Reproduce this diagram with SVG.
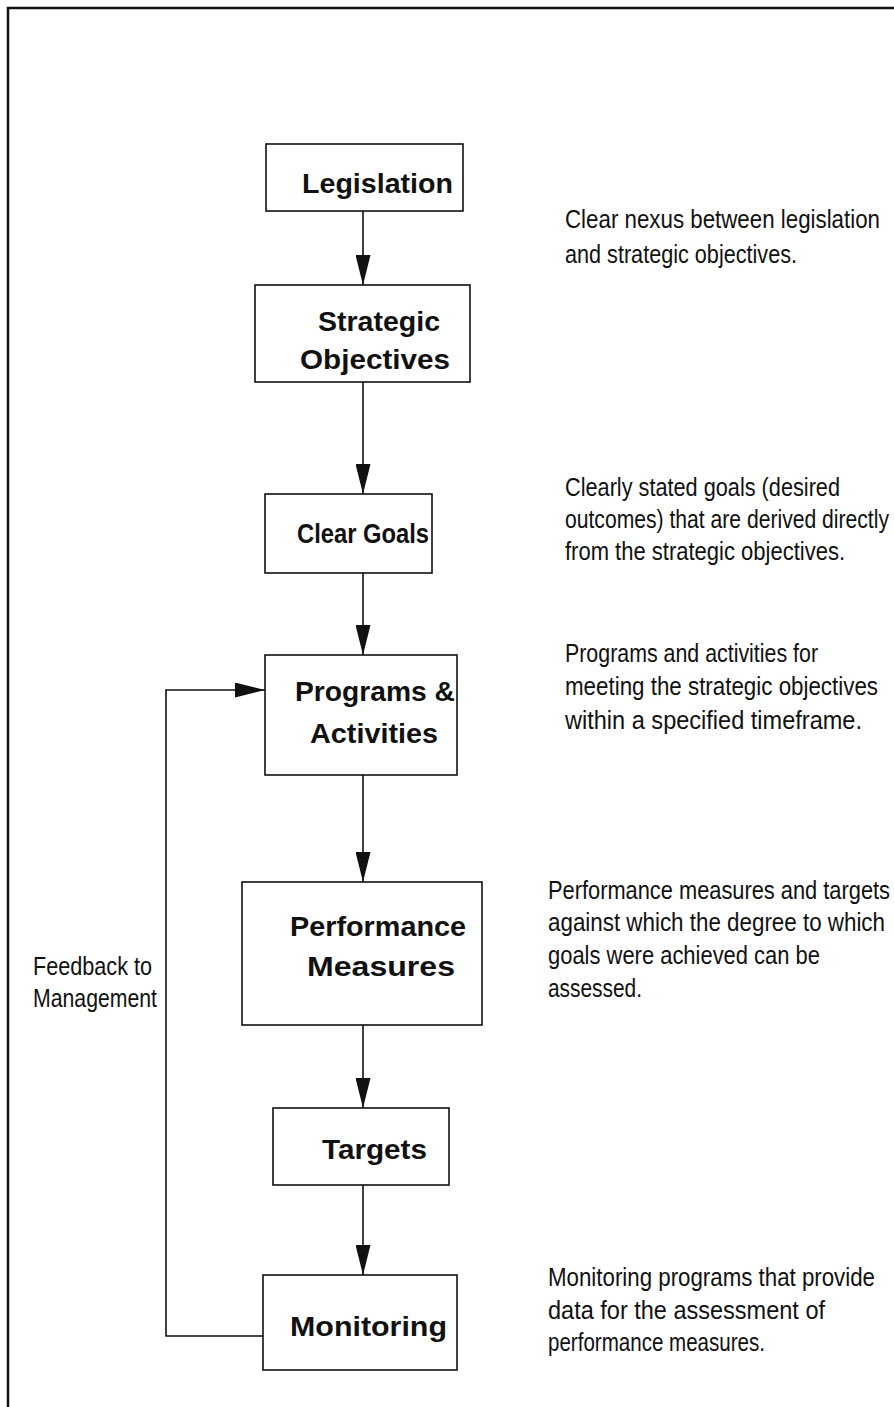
<svg xmlns="http://www.w3.org/2000/svg" width="894" height="1407" viewBox="0 0 894 1407">
<style>
.box{fill:#fff;stroke:#111;stroke-width:1.6}
.lbl{font-family:"Liberation Sans",Arial,sans-serif;font-weight:bold;font-size:28px;fill:#111}
.note{font-family:"Liberation Sans",Arial,sans-serif;font-size:22px;fill:#111}
.conn{fill:none;stroke:#111;stroke-width:1.6}
</style>
<defs>
<marker id="ah" markerUnits="userSpaceOnUse" markerWidth="30" markerHeight="15" refX="30" refY="7.5" orient="auto">
<path d="M0,0 L30,7.5 L0,15 z" fill="#111"/>
</marker>
</defs>
<rect width="894" height="1407" fill="#fff"/>
<path d="M8,1407 V8 H894" fill="none" stroke="#111" stroke-width="2.5"/>
<g id="connectors">
<line class="conn" x1="363" y1="211" x2="363" y2="285" marker-end="url(#ah)"/>
<line class="conn" x1="363" y1="382" x2="363" y2="494" marker-end="url(#ah)"/>
<line class="conn" x1="363" y1="573" x2="363" y2="655" marker-end="url(#ah)"/>
<line class="conn" x1="363" y1="775" x2="363" y2="882" marker-end="url(#ah)"/>
<line class="conn" x1="363" y1="1025" x2="363" y2="1108" marker-end="url(#ah)"/>
<line class="conn" x1="363" y1="1185" x2="363" y2="1275" marker-end="url(#ah)"/>
<polyline class="conn" points="264,1336 166,1336 166,690 265,690" marker-end="url(#ah)"/>
</g>
<g id="legislation">
<rect class="box" x="266" y="144" width="197" height="67"/>
<text class="lbl" x="302" y="193" textLength="151" lengthAdjust="spacingAndGlyphs">Legislation</text>
</g>
<g id="strategic-objectives">
<rect class="box" x="255" y="285" width="215" height="97"/>
<text class="lbl" x="318" y="331" textLength="122" lengthAdjust="spacingAndGlyphs">Strategic</text>
<text class="lbl" x="300" y="369" textLength="150" lengthAdjust="spacingAndGlyphs">Objectives</text>
</g>
<g id="clear-goals">
<rect class="box" x="265" y="494" width="167" height="79"/>
<text class="lbl" x="297" y="543" textLength="132" lengthAdjust="spacingAndGlyphs">Clear Goals</text>
</g>
<g id="programs-activities">
<rect class="box" x="265" y="655" width="192" height="120"/>
<text class="lbl" x="295" y="701" textLength="160" lengthAdjust="spacingAndGlyphs">Programs &amp;</text>
<text class="lbl" x="310" y="743" textLength="128" lengthAdjust="spacingAndGlyphs">Activities</text>
</g>
<g id="performance-measures">
<rect class="box" x="242" y="882" width="240" height="143"/>
<text class="lbl" x="290" y="936" textLength="176" lengthAdjust="spacingAndGlyphs">Performance</text>
<text class="lbl" x="307" y="976" textLength="148" lengthAdjust="spacingAndGlyphs">Measures</text>
</g>
<g id="targets">
<rect class="box" x="273" y="1108" width="176" height="77"/>
<text class="lbl" x="322" y="1159" textLength="105" lengthAdjust="spacingAndGlyphs">Targets</text>
</g>
<g id="monitoring">
<rect class="box" x="263" y="1275" width="194" height="95"/>
<text class="lbl" x="290" y="1336" textLength="157" lengthAdjust="spacingAndGlyphs">Monitoring</text>
</g>
<g id="feedback-label">
<text class="note" transform="matrix(1,0,0,1.18,33,975)" textLength="119" lengthAdjust="spacingAndGlyphs">Feedback to</text>
<text class="note" transform="matrix(1,0,0,1.18,33,1007)" textLength="124" lengthAdjust="spacingAndGlyphs">Management</text>
</g>
<g id="notes">
<text class="note" transform="matrix(1,0,0,1.18,565,228)" textLength="315" lengthAdjust="spacingAndGlyphs">Clear nexus between legislation</text>
<text class="note" transform="matrix(1,0,0,1.18,565,263)" textLength="232" lengthAdjust="spacingAndGlyphs">and strategic objectives.</text>
<text class="note" transform="matrix(1,0,0,1.18,565,496)" textLength="275" lengthAdjust="spacingAndGlyphs">Clearly stated goals (desired</text>
<text class="note" transform="matrix(1,0,0,1.3,565,528)" style="font-size:19.5px" textLength="324" lengthAdjust="spacingAndGlyphs">outcomes) that are derived directly</text>
<text class="note" transform="matrix(1,0,0,1.18,565,560)" textLength="280" lengthAdjust="spacingAndGlyphs">from the strategic objectives.</text>
<text class="note" transform="matrix(1,0,0,1.18,565,662)" textLength="253" lengthAdjust="spacingAndGlyphs">Programs and activities for</text>
<text class="note" transform="matrix(1,0,0,1.18,565,695)" textLength="313" lengthAdjust="spacingAndGlyphs">meeting the strategic objectives</text>
<text class="note" transform="matrix(1,0,0,1.18,565,729)" textLength="297" lengthAdjust="spacingAndGlyphs">within a specified timeframe.</text>
<text class="note" transform="matrix(1,0,0,1.18,548,899)" textLength="342" lengthAdjust="spacingAndGlyphs">Performance measures and targets</text>
<text class="note" transform="matrix(1,0,0,1.18,548,931)" textLength="337" lengthAdjust="spacingAndGlyphs">against which the degree to which</text>
<text class="note" transform="matrix(1,0,0,1.18,548,964)" textLength="272" lengthAdjust="spacingAndGlyphs">goals were achieved can be</text>
<text class="note" transform="matrix(1,0,0,1.18,548,997)" textLength="94" lengthAdjust="spacingAndGlyphs">assessed.</text>
<text class="note" transform="matrix(1,0,0,1.18,548,1286)" textLength="327" lengthAdjust="spacingAndGlyphs">Monitoring programs that provide</text>
<text class="note" transform="matrix(1,0,0,1.18,548,1319)" textLength="277" lengthAdjust="spacingAndGlyphs">data for the assessment of</text>
<text class="note" transform="matrix(1,0,0,1.18,548,1351)" textLength="217" lengthAdjust="spacingAndGlyphs">performance measures.</text>
</g>
</svg>
